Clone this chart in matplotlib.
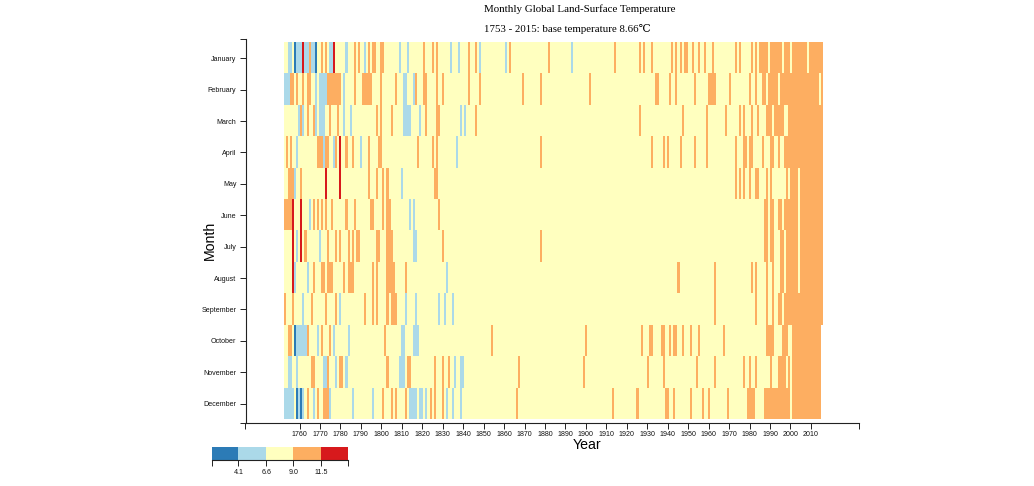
import numpy as np
import matplotlib
matplotlib.use('Agg')
import matplotlib.pyplot as plt
from matplotlib.colors import ListedColormap

plt.rcParams['font.family'] = ['Liberation Sans', 'DejaVu Sans']

months = ['January', 'February', 'March', 'April', 'May', 'June', 'July',
          'August', 'September', 'October', 'November', 'December']
first_year = 1753
last_year = 2015
last_month_2015 = 9
year_ticks = [1760, 1770, 1780, 1790, 1800, 1810, 1820, 1830, 1840, 1850, 1860, 1870, 1880,
              1890, 1900, 1910, 1920, 1930, 1940, 1950, 1960, 1970, 1980, 1990, 2000, 2010]

legend_edges = [1.68, 4.1, 6.6, 9.0, 11.5, 13.92]
legend_labels = ['', '4.1', '6.6', '9.0', '11.5', '']
colors = ['#2c7bb6', '#abd9e9', '#ffffbf', '#fdae61', '#d7191c']

# every cell is the yellow band unless its year is listed below
very_cold = {
    'January': [1758, 1768],
    'October': [1758],
    'December': [1759, 1761],
}
very_hot = {
    'January': [1762, 1777],
    'April': [1780],
    'May': [1773, 1780],
    'June': [1757, 1761],
    'July': [1757, 1761],
    'August': [1757],
}
cool = {
    'January': [1755, 1756, 1759, 1760, 1761, 1763, 1764, 1766, 1767, 1775, 1776, 1783, 1792, 1809, 1813,
                1834, 1838, 1848, 1861, 1893],
    'February': [1753, 1754, 1755, 1768, 1770, 1771, 1772, 1773, 1782, 1811, 1812, 1816],
    'March': [1760, 1762, 1768, 1770, 1771, 1772, 1782, 1785, 1811, 1812, 1813, 1814, 1819, 1839, 1841],
    'April': [1759, 1772, 1777, 1790, 1837],
    'May': [1758, 1810],
    'June': [1765, 1814, 1816],
    'July': [1759, 1770, 1816, 1817],
    'August': [1758, 1764, 1832],
    'September': [1762, 1780, 1812, 1817, 1828, 1831, 1835],
    'October': [1759, 1760, 1761, 1762, 1763, 1769, 1777, 1784, 1810, 1811, 1816, 1817, 1818],
    'November': [1755, 1756, 1759, 1772, 1773, 1778, 1783, 1809, 1810, 1811, 1836, 1839, 1840],
    'December': [1753, 1754, 1755, 1756, 1757, 1760, 1762, 1767, 1775, 1786, 1796, 1814, 1815, 1816, 1817,
                 1819, 1820, 1822, 1832, 1835, 1839],
}
warm = {
    'January': [1765, 1771, 1773, 1787, 1789, 1794, 1796, 1797, 1800, 1801, 1821, 1825, 1827, 1843, 1846,
                1863, 1882, 1914, 1926, 1928, 1932, 1942, 1944, 1946, 1948, 1949, 1952, 1955, 1958, 1962,
                1973, 1975, 1981, 1983, 1985, 1986, 1987, 1988, 1990, 1991, 1992, 1993, 1994, 1995, 1997,
                1998, 1999, 2001, 2002, 2003, 2004, 2005, 2006, 2007, 2009, 2010, 2011, 2012, 2013, 2014,
                2015],
    'February': [1756, 1757, 1759, 1762, 1764, 1765, 1774, 1775, 1776, 1777, 1778, 1779, 1780, 1787, 1791,
                 1792, 1793, 1794, 1795, 1800, 1807, 1817, 1821, 1822, 1827, 1830, 1843, 1848, 1869, 1878,
                 1902, 1934, 1935, 1941, 1944, 1953, 1960, 1961, 1962, 1963, 1970, 1980, 1983, 1986, 1987,
                 1989, 1990, 1991, 1992, 1993, 1995, 1996, 1997, 1998, 1999, 2000, 2001, 2002, 2003, 2004,
                 2005, 2006, 2007, 2008, 2009, 2010, 2011, 2012, 2013, 2015],
    'March': [1761, 1764, 1767, 1775, 1779, 1798, 1800, 1805, 1822, 1827, 1828, 1846, 1926, 1947, 1959,
              1968, 1975, 1977, 1981, 1984, 1988, 1989, 1990, 1992, 1993, 1994, 1995, 1996, 1999, 2000,
              2001, 2002, 2003, 2004, 2005, 2006, 2007, 2008, 2009, 2010, 2011, 2012, 2013, 2014, 2015],
    'April': [1754, 1756, 1769, 1770, 1771, 1773, 1774, 1778, 1783, 1786, 1794, 1799, 1800, 1818, 1825,
              1827, 1878, 1932, 1938, 1940, 1946, 1953, 1959, 1973, 1977, 1978, 1980, 1981, 1986, 1990,
              1991, 1994, 1997, 1998, 1999, 2000, 2001, 2002, 2003, 2004, 2005, 2006, 2007, 2008, 2009,
              2010, 2011, 2012, 2013, 2014, 2015],
    'May': [1755, 1756, 1757, 1761, 1794, 1798, 1801, 1803, 1826, 1827, 1973, 1975, 1977, 1980, 1983, 1984,
            1988, 1990, 1998, 2000, 2001, 2002, 2003, 2005, 2006, 2007, 2008, 2009, 2010, 2011, 2012, 2013,
            2014, 2015],
    'June': [1753, 1754, 1755, 1756, 1767, 1769, 1771, 1773, 1776, 1783, 1787, 1795, 1796, 1801, 1803, 1804,
             1828, 1987, 1988, 1990, 1991, 1994, 1995, 1997, 1998, 1999, 2000, 2001, 2002, 2003, 2005, 2006,
             2007, 2008, 2009, 2010, 2011, 2012, 2013, 2014, 2015],
    'July': [1763, 1774, 1778, 1780, 1784, 1786, 1788, 1789, 1798, 1799, 1803, 1804, 1805, 1830, 1878, 1987,
             1988, 1990, 1991, 1995, 1996, 1998, 1999, 2000, 2001, 2002, 2003, 2005, 2006, 2007, 2008, 2009,
             2010, 2011, 2012, 2013, 2014, 2015],
    'August': [1767, 1771, 1772, 1774, 1775, 1776, 1782, 1784, 1785, 1786, 1796, 1798, 1803, 1804, 1805,
               1806, 1812, 1945, 1963, 1981, 1983, 1988, 1991, 1995, 1996, 1998, 1999, 2000, 2001, 2002,
               2003, 2005, 2006, 2007, 2008, 2009, 2010, 2011, 2012, 2013, 2014, 2015],
    'September': [1753, 1757, 1766, 1773, 1778, 1792, 1796, 1798, 1803, 1805, 1806, 1807, 1963, 1983, 1988,
                  1991, 1994, 1995, 1997, 1998, 1999, 2000, 2001, 2002, 2003, 2004, 2005, 2006, 2007, 2008,
                  2009, 2010, 2011, 2012, 2013, 2014, 2015],
    'October': [1755, 1756, 1764, 1771, 1775, 1802, 1854, 1900, 1927, 1931, 1932, 1937, 1938, 1941, 1943,
                1944, 1947, 1951, 1955, 1967, 1988, 1989, 1990, 1991, 1996, 1997, 1998, 2001, 2002, 2003,
                2004, 2005, 2006, 2007, 2008, 2009, 2010, 2011, 2012, 2013, 2014],
    'November': [1766, 1767, 1774, 1780, 1781, 1803, 1813, 1814, 1826, 1830, 1833, 1867, 1899, 1930, 1938,
                 1954, 1963, 1977, 1980, 1983, 1990, 1994, 1995, 1996, 1997, 1999, 2001, 2002, 2003, 2004,
                 2005, 2006, 2007, 2008, 2009, 2010, 2011, 2012, 2013, 2014],
    'December': [1764, 1769, 1772, 1773, 1774, 1801, 1805, 1807, 1812, 1824, 1826, 1830, 1866, 1913, 1925,
                 1939, 1940, 1943, 1951, 1957, 1960, 1969, 1979, 1980, 1981, 1982, 1987, 1988, 1989, 1990,
                 1991, 1992, 1993, 1994, 1995, 1996, 1997, 1998, 1999, 2001, 2002, 2003, 2004, 2005, 2006,
                 2007, 2008, 2009, 2010, 2011, 2012, 2013, 2014],
}

bands = np.full((12, last_year - first_year + 1), 2.0)
for level, table in [(3, warm), (1, cool), (0, very_cold), (4, very_hot)]:
    for row, month in enumerate(months):
        for year in table.get(month, []):
            bands[row, year - first_year] = level
bands[last_month_2015:, -1] = np.nan

W, H = 1034, 486
fig = plt.figure(figsize=(W / 100, H / 100), dpi=100)


def place(left, top, right, bottom):
    return [left / W, 1 - bottom / H, (right - left) / W, (bottom - top) / H]


ax = fig.add_axes(place(245.5, 39.5, 859, 422.5))
cmap = ListedColormap(colors)
cmap.set_bad('white')
ax.imshow(np.ma.masked_invalid(bands), cmap=cmap, vmin=-0.5, vmax=4.5, aspect='auto', interpolation='nearest',
          extent=[first_year - 0.5, last_year + 0.5, 12, 0])
ax.set_xlim(1733.6, 2033.5)
ax.set_ylim(12.1, -0.096)

for side in ['top', 'right']:
    ax.spines[side].set_visible(False)
for side in ['left', 'bottom']:
    ax.spines[side].set_linewidth(0.8)
    ax.spines[side].set_color('#222222')

ax.set_xticks(year_ticks)
ax.set_xticklabels([str(y) for y in year_ticks])
ax.set_xticks([1733.6, 2033.5], minor=True)
ax.set_yticks(np.arange(12) + 0.5)
ax.set_yticklabels(months)
ax.set_yticks([-0.096, 12.1], minor=True)
ax.tick_params(axis='both', which='both', direction='out', length=4.5, width=0.7, color='#222222',
               labelsize=5.1, labelcolor='#111111', pad=2)
ax.tick_params(axis='x', which='both', pad=1.3)

fig.text(587 / W, 1 - 445 / H, 'Year', ha='center', va='center', fontsize=10.2, color='black')
fig.text(210 / W, 1 - 240 / H, 'Month', ha='center', va='center', rotation=90, fontsize=10.2, color='black')

serif = ['Liberation Serif', 'DejaVu Serif']
fig.text(580 / W, 1 - 9 / H, 'Monthly Global Land-Surface Temperature', ha='center', va='center',
         fontsize=7.9, family=serif, color='black')
fig.text(567.5 / W, 1 - 29.5 / H, '1753 - 2015: base temperature 8.66\u2103', ha='center', va='center',
         fontsize=7.8, family=serif, color='black')

# colour key
key = fig.add_axes(place(211.5, 447, 348, 460))
key.pcolormesh(legend_edges, [0, 1], np.arange(5).reshape(1, 5), cmap=cmap, vmin=-0.5, vmax=4.5,
               linewidth=0, antialiased=False)
key.set_xlim(legend_edges[0], legend_edges[-1])
key.set_ylim(0, 1)
key.set_yticks([])
key.set_xticks(legend_edges)
key.set_xticklabels(legend_labels)
key.tick_params(axis='x', direction='out', length=4.6, width=0.7, color='#222222', labelsize=5.1,
                labelcolor='#111111', pad=2)
for side in ['top', 'left', 'right']:
    key.spines[side].set_visible(False)
key.spines['bottom'].set_linewidth(0.8)
key.spines['bottom'].set_color('#222222')

fig.savefig('out.png', dpi=100)
